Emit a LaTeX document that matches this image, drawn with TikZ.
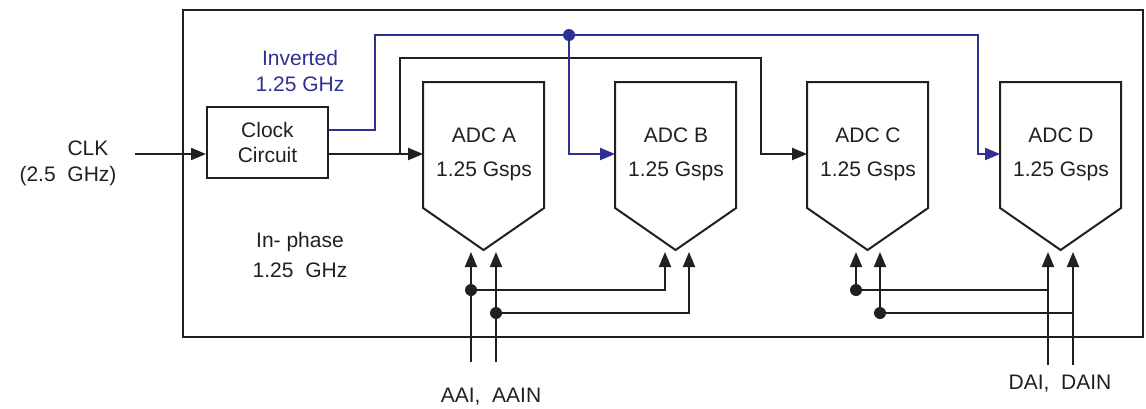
\documentclass[tikz,border=0pt]{standalone}
\usepackage{fontspec}
\setmainfont{Liberation Sans}
\usetikzlibrary{arrows.meta,positioning,calc}
\definecolor{ink}{HTML}{231F20}
\definecolor{invblue}{HTML}{2E3192}

\begin{document}
\begin{tikzpicture}[
  x=0.5pt, y=-0.5pt,
  >={Triangle[length=7.5pt,width=6pt]},
  every node/.style={text=ink, font=\fontsize{10.5}{12.6}\selectfont},
  wire/.style={line width=1pt, draw=ink},
  arr/.style={wire, ->},
  inv/.style={line width=1pt, draw=invblue},
  invarr/.style={inv, ->},
  clkbox/.style={draw=ink, line width=1pt, minimum width=60.5pt, minimum height=35.5pt,
     inner sep=0pt, align=center},
  adc/.style={inner sep=0pt, minimum width=60.5pt, align=center},
  dot/.style={circle, fill=ink, inner sep=0pt, minimum size=6pt},
]
\useasboundingbox (0,0) rectangle (1146,408);
% --- rows (top -> bottom), pixel units ---
\def\yinv{35}
\def\yblk{58}
\def\yadc{154}
\def\yin{252}
\def\ybusa{290}
\def\ybusb{313}
% chip outline
\draw[wire] (183,10) rectangle (1143,337);
% clock circuit and labels
\node[clkbox] (clk) at (267.5,142.5) {Clock\\Circuit};
\node (clklbl)  at (88,148) {CLK};
\node (clkfreq) at (68,176) {(2.5~~GHz)};
\node[text=invblue, align=center] (invlbl) at (300,71) {Inverted\\1.25 GHz};
\node[align=center] (inplbl) at (300,255) {In- phase\\[2.4pt]1.25~~GHz};
% --- converters ---
\foreach \n/\x in {A/484,B/676,C/868,D/1061}
  \node[adc] (adc\n) at (\x,\yadc) {ADC \n\\[4.5pt]1.25 Gsps};
\foreach \n in {A,B,C,D}
  \draw[wire, line join=miter] ($(adc\n.west)+(0,-72)$) -- ++(121,0) -- ++(0,126)
    -- ++(-60.5,42) -- ++(-60.5,-42) -- cycle;
% --- clock paths ---
\coordinate (clkin) at (135,\yadc);
\draw[arr] (clkin) -- (clkin -| clk.west);
\draw[arr] (clkin -| clk.east) -- (adcA.west);
\coordinate (cj) at (400,\yadc);
\draw[arr] (cj) |- (761,\yblk) |- (adcC.west);
% inverted clock
\coordinate (bj) at (569,\yinv);
\draw[invarr] ($(clk.east)+(0,-12.5)$) -| (375,\yinv) -- (978,\yinv) |- (adcD.west);
\draw[invarr] (bj) |- (adcB.west);
\node[dot, fill=invblue] (bjdot) at (bj) {};
% --- analog inputs A/B ---
\coordinate (aai)  at (471,362);
\coordinate (aain) at (496,362);
\draw[arr] (aai)  -- (aai |- 0,\yin);
\draw[arr] (aain) -- (aain |- 0,\yin);
\node[dot] (aaidot)  at (aai |- 0,\ybusa) {};
\node[dot] (aaindot) at (aain |- 0,\ybusb) {};
\draw[arr] (aaidot)  -| (665,\yin);
\draw[arr] (aaindot) -| (689,\yin);
\node (alabel) at (491,397) {AAI,~~AAIN};
% --- analog inputs C/D ---
\coordinate (dai)  at (1048,365);
\coordinate (dain) at (1073,365);
\draw[arr] (dai)  -- (dai |- 0,\yin);
\draw[arr] (dain) -- (dain |- 0,\yin);
\node[dot] (daidot)  at (856,\ybusa) {};
\node[dot] (daindot) at (880,\ybusb) {};
\draw[wire] (dai |- daidot) -- (daidot);
\draw[wire] (dain |- daindot) -- (daindot);
\draw[arr] (daidot)  -- (856,\yin);
\draw[arr] (daindot) -- (880,\yin);
\node (dlabel) at (1060,384) {DAI,~~DAIN};
\end{tikzpicture}
\end{document}
